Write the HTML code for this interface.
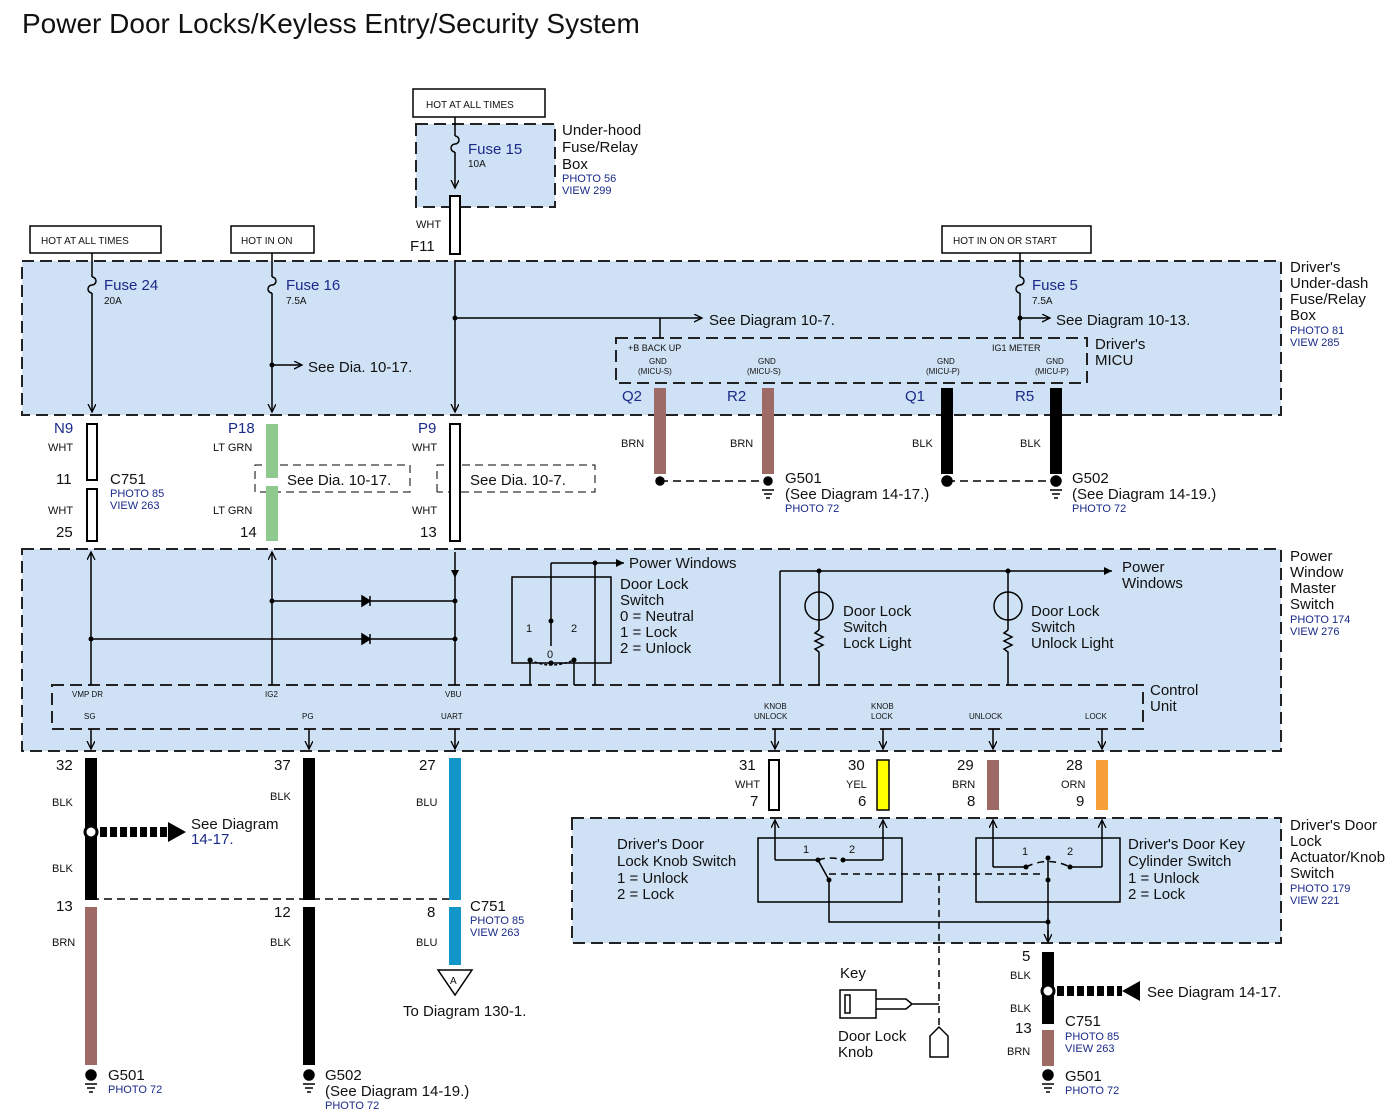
<!DOCTYPE html>
<html><head><meta charset="utf-8"><style>
html,body{margin:0;padding:0;background:#fff}
svg{display:block}
text{font-family:"Liberation Sans",sans-serif;fill:#111}
.s{font-size:11px}.m{font-size:15px}.b,.b text{fill:#1a2a8a}.t{font-size:10px}
</style></head><body>
<svg width="1399" height="1119" viewBox="0 0 1399 1119" xmlns="http://www.w3.org/2000/svg">
<defs>
<marker id="ar" markerWidth="10" markerHeight="10" refX="8" refY="4" orient="auto" markerUnits="userSpaceOnUse"><path d="M0,0 L8,4 L0,8" fill="none" stroke="#000" stroke-width="1.3"/></marker>
<marker id="af" markerWidth="10" markerHeight="10" refX="8" refY="4" orient="auto" markerUnits="userSpaceOnUse"><path d="M0,0 L8,4 L0,8z" fill="#000"/></marker>
</defs>
<text x="22" y="33" style="font-size:28px">Power Door Locks/Keyless Entry/Security System</text>

<g fill="#cfe1f4" stroke="#222" stroke-width="2" stroke-dasharray="12,6">
<rect x="416" y="124" width="139" height="83"/>
<rect x="22" y="261" width="1259" height="154"/>
<rect x="22" y="549" width="1259" height="202"/>
<rect x="572" y="818" width="709" height="125"/>
<rect x="616" y="338" width="471" height="45"/>
<rect x="52" y="685" width="1091" height="44"/>
</g>
<g fill="#fff" stroke="#000" stroke-width="1.5">
<rect x="413" y="89" width="132" height="28"/><rect x="30" y="226" width="131" height="27"/>
<rect x="231" y="226" width="83" height="27"/><rect x="942" y="226" width="149" height="27"/>
</g>
<g class="t"><text x="426" y="108">HOT AT ALL TIMES</text><text x="41" y="244">HOT AT ALL TIMES</text>
<text x="241" y="244">HOT IN ON</text><text x="953" y="244">HOT IN ON OR START</text></g>

<g stroke="#000" stroke-width="1.5" fill="none">
<line x1="455" y1="117" x2="455" y2="136"/><path d="M455,136 a4,4 0 0 1 0,8 a4,4 0 0 0 0,8"/><line x1="455" y1="152" x2="455" y2="188" marker-end="url(#ar)"/>
<line x1="92" y1="253" x2="92" y2="277"/><path d="M92,277 a4,4 0 0 1 0,8 a4,4 0 0 0 0,8"/><line x1="92" y1="293" x2="92" y2="412" marker-end="url(#ar)"/>
<line x1="272" y1="253" x2="272" y2="277"/><path d="M272,277 a4,4 0 0 1 0,8 a4,4 0 0 0 0,8"/><line x1="272" y1="293" x2="272" y2="412" marker-end="url(#ar)"/>
<line x1="272" y1="365" x2="302" y2="365" marker-end="url(#ar)"/>
<line x1="455" y1="262" x2="455" y2="412" marker-end="url(#ar)"/>
<line x1="455" y1="318" x2="702" y2="318" marker-end="url(#ar)"/>
<line x1="660" y1="318" x2="660" y2="338"/>
<line x1="1020" y1="253" x2="1020" y2="277"/><path d="M1020,277 a4,4 0 0 1 0,8 a4,4 0 0 0 0,8"/><line x1="1020" y1="293" x2="1020" y2="338"/>
<line x1="1020" y1="318" x2="1050" y2="318" marker-end="url(#ar)"/>
<line x1="91" y1="685" x2="91" y2="552" marker-end="url(#ar)"/>
<line x1="272" y1="685" x2="272" y2="552" marker-end="url(#ar)"/>
<line x1="455" y1="552" x2="455" y2="578" marker-end="url(#af)"/>
<line x1="455" y1="578" x2="455" y2="685"/>
<line x1="272" y1="601" x2="455" y2="601"/><line x1="91" y1="639" x2="455" y2="639"/>
<path d="M362,596 L370,601 L362,606z M370,596 L370,606" fill="#000"/>
<path d="M362,634 L370,639 L362,644z M370,634 L370,644" fill="#000"/>
<rect x="512" y="577" width="99" height="86"/>
<line x1="595" y1="563" x2="595" y2="685"/><line x1="551" y1="563" x2="624" y2="563" marker-end="url(#af)"/>
<line x1="551" y1="563" x2="551" y2="646"/>
<path d="M530,660 L530,685 M574,660 L574,685"/>
<path d="M530,660 Q551,670 574,660" stroke-dasharray="3,2"/>
<line x1="780" y1="571" x2="1112" y2="571" marker-end="url(#af)"/>
<line x1="780" y1="571" x2="780" y2="685"/>
<line x1="819" y1="571" x2="819" y2="630"/><circle cx="819" cy="606" r="14"/>
<path d="M819,630 l-4,3 l8,4 l-8,4 l8,4 l-8,4 l4,3 L819,685"/>
<line x1="1008" y1="571" x2="1008" y2="630"/><circle cx="1008" cy="606" r="14"/>
<path d="M1008,630 l-4,3 l8,4 l-8,4 l8,4 l-8,4 l4,3 L1008,685"/>
<line x1="91" y1="729" x2="91" y2="749" marker-end="url(#ar)"/>
<line x1="309" y1="729" x2="309" y2="749" marker-end="url(#ar)"/>
<line x1="455" y1="729" x2="455" y2="749" marker-end="url(#ar)"/>
<line x1="775" y1="729" x2="775" y2="749" marker-end="url(#ar)"/>
<line x1="883" y1="729" x2="883" y2="749" marker-end="url(#ar)"/>
<line x1="993" y1="729" x2="993" y2="749" marker-end="url(#ar)"/>
<line x1="1102" y1="729" x2="1102" y2="749" marker-end="url(#ar)"/>
<rect x="758" y="838" width="144" height="64"/><rect x="976" y="838" width="144" height="64"/>
<line x1="775" y1="860" x2="775" y2="820" marker-end="url(#ar)"/><line x1="775" y1="860" x2="818" y2="860"/>
<line x1="883" y1="860" x2="883" y2="820" marker-end="url(#ar)"/><line x1="843" y1="860" x2="883" y2="860"/>
<line x1="993" y1="867" x2="993" y2="820" marker-end="url(#ar)"/><line x1="993" y1="867" x2="1026" y2="867"/>
<line x1="1102" y1="867" x2="1102" y2="820" marker-end="url(#ar)"/><line x1="1070" y1="867" x2="1102" y2="867"/>
<path d="M818,860 L829,880 L829,922 L1048,922 M1048,858 L1048,940" />
<line x1="1048" y1="930" x2="1048" y2="942" marker-end="url(#ar)"/>
<path d="M818,860 Q830,856 843,860 M1026,867 Q1048,856 1070,867 M829,874 L1040,874 M939,874 L939,1030" stroke-dasharray="7,5"/>
<rect x="840" y="990" width="36" height="28"/><rect x="845" y="995" width="5" height="18"/>
<path d="M876,999 L906,999 L912,1004 L906,1009 L876,1009 M912,1004 L939,1004" />
<path d="M930,1057 L930,1036 L939,1027 L948,1036 L948,1057z"/>
<path d="M660,481 L768,481 M947,481 L1056,481 M91,899 L455,899" stroke-dasharray="8,5"/>
<path d="M255,492 L255,465 L410,465 L410,492 L255,492 M437,492 L437,465 L595,465 L595,492 L437,492" stroke-dasharray="8,5" stroke-width="1"/>
</g>
<g fill="#000"><circle cx="455" cy="318" r="2.5"/><circle cx="272" cy="365" r="2.5"/><circle cx="1020" cy="318" r="2.5"/>
<circle cx="272" cy="601" r="2.5"/><circle cx="91" cy="639" r="2.5"/><circle cx="455" cy="601" r="2.5"/><circle cx="455" cy="639" r="2.5"/>
<circle cx="595" cy="563" r="2.5"/><circle cx="819" cy="571" r="2.5"/><circle cx="1008" cy="571" r="2.5"/><circle cx="551" cy="621" r="2.5"/>
<circle cx="530" cy="660" r="2.5"/><circle cx="574" cy="660" r="2.5"/><circle cx="551" cy="663" r="2.5"/>
<circle cx="818" cy="860" r="2.5"/><circle cx="843" cy="860" r="2.5"/><circle cx="829" cy="880" r="2.5"/>
<circle cx="1026" cy="867" r="2.5"/><circle cx="1070" cy="867" r="2.5"/><circle cx="1048" cy="858" r="2.5"/><circle cx="1048" cy="880" r="2.5"/><circle cx="1048" cy="922" r="2.5"/></g>

<g stroke="#000" stroke-width="2" fill="#fff">
<rect x="450" y="196" width="10" height="58"/>
<rect x="87" y="424" width="10" height="56"/><rect x="87" y="489" width="10" height="52"/>
<rect x="450" y="424" width="10" height="117"/>
<rect x="769" y="760" width="10" height="50"/>
</g>
<rect x="266" y="424" width="12" height="117" fill="#8fc98f"/>
<rect x="266" y="478" width="12" height="8" fill="#fff"/><rect x="451" y="478" width="8" height="8" fill="#fff"/>
<rect x="654" y="388" width="12" height="86" fill="#9d6a66"/><rect x="762" y="388" width="12" height="86" fill="#9d6a66"/>
<rect x="941" y="388" width="12" height="86" fill="#000"/><rect x="1050" y="388" width="12" height="86" fill="#000"/>
<rect x="85" y="758" width="12" height="142" fill="#000"/><rect x="85" y="907" width="12" height="158" fill="#9d6a66"/>
<rect x="303" y="758" width="12" height="142" fill="#000"/><rect x="303" y="907" width="12" height="158" fill="#000"/>
<rect x="449" y="758" width="12" height="142" fill="#1296c9"/><rect x="449" y="907" width="12" height="58" fill="#1296c9"/>
<rect x="877" y="760" width="12" height="50" fill="#ffff00" stroke="#000" stroke-width="1.5"/>
<rect x="987" y="760" width="12" height="50" fill="#9d6a66"/><rect x="1096" y="760" width="12" height="50" fill="#f7a03a"/>
<rect x="1042" y="952" width="12" height="72" fill="#000"/><rect x="1042" y="1030" width="12" height="36" fill="#9d6a66"/>
<g fill="#000" stroke="#000" stroke-width="1.5">
<circle cx="660" cy="481" r="4"/><circle cx="768" cy="481" r="4"/><circle cx="947" cy="481" r="5"/><circle cx="1056" cy="481" r="5"/>
<circle cx="91" cy="1075" r="5"/><circle cx="309" cy="1075" r="5"/><circle cx="1048" cy="1075" r="5"/>
<path d="M762,490h12M764,494h8M766,498h4M1050,490h12M1052,494h8M1054,498h4M85,1084h12M87,1088h8M89,1092h4M303,1084h12M305,1088h8M307,1092h4M1042,1084h12M1044,1088h8M1046,1092h4" fill="none"/>
<circle cx="91" cy="832" r="6" fill="#fff" stroke-width="3"/><circle cx="1048" cy="991" r="6" fill="#fff" stroke-width="3"/>
</g>
<path d="M100,832 L168,832" stroke="#000" stroke-width="10" stroke-dasharray="7,3"/><path d="M168,822 L186,832 L168,842z" fill="#000"/>
<path d="M1057,991 L1122,991" stroke="#000" stroke-width="10" stroke-dasharray="7,3"/><path d="M1140,981 L1122,991 L1140,1001z" fill="#000"/>
<path d="M438,970 L472,970 L455,995z" fill="#fff" stroke="#000" stroke-width="1.5"/><text x="450" y="984" class="t">A</text>

<g class="m">
<text x="562" y="135">Under-hood</text><text x="562" y="152">Fuse/Relay</text><text x="562" y="169">Box</text>
<text x="468" y="154" class="b">Fuse 15</text>
<text x="104" y="290" class="b">Fuse 24</text><text x="286" y="290" class="b">Fuse 16</text><text x="1032" y="290" class="b">Fuse 5</text>
<text x="308" y="372">See Dia. 10-17.</text><text x="709" y="325">See Diagram 10-7.</text><text x="1056" y="325">See Diagram 10-13.</text>
<text x="1290" y="272">Driver's</text><text x="1290" y="288">Under-dash</text><text x="1290" y="304">Fuse/Relay</text><text x="1290" y="320">Box</text>
<text x="1095" y="349">Driver's</text><text x="1095" y="365">MICU</text>
<text x="622" y="401" class="b">Q2</text><text x="727" y="401" class="b">R2</text><text x="905" y="401" class="b">Q1</text><text x="1015" y="401" class="b">R5</text>
<text x="54" y="433" class="b">N9</text><text x="228" y="433" class="b">P18</text><text x="418" y="433" class="b">P9</text>
<text x="410" y="251">F11</text>
<text x="56" y="484">11</text><text x="56" y="537">25</text><text x="240" y="537">14</text><text x="420" y="537">13</text>
<text x="110" y="484">C751</text><text x="287" y="485">See Dia. 10-17.</text><text x="470" y="485">See Dia. 10-7.</text>
<text x="785" y="483">G501</text><text x="785" y="499">(See Diagram 14-17.)</text>
<text x="1072" y="483">G502</text><text x="1072" y="499">(See Diagram 14-19.)</text>
<text x="629" y="568">Power Windows</text>
<text x="620" y="589">Door Lock</text><text x="620" y="605">Switch</text><text x="620" y="621">0 = Neutral</text><text x="620" y="637">1 = Lock</text><text x="620" y="653">2 = Unlock</text>
<text x="1122" y="572">Power</text><text x="1122" y="588">Windows</text>
<text x="843" y="616">Door Lock</text><text x="843" y="632">Switch</text><text x="843" y="648">Lock Light</text>
<text x="1031" y="616">Door Lock</text><text x="1031" y="632">Switch</text><text x="1031" y="648">Unlock Light</text>
<text x="1150" y="695">Control</text><text x="1150" y="711">Unit</text>
<text x="1290" y="561">Power</text><text x="1290" y="577">Window</text><text x="1290" y="593">Master</text><text x="1290" y="609">Switch</text>
<text x="56" y="770">32</text><text x="274" y="770">37</text><text x="419" y="770">27</text>
<text x="739" y="770">31</text><text x="848" y="770">30</text><text x="957" y="770">29</text><text x="1066" y="770">28</text>
<text x="750" y="806">7</text><text x="858" y="806">6</text><text x="967" y="806">8</text><text x="1076" y="806">9</text>
<text x="191" y="829">See Diagram</text><text x="191" y="844" class="b">14-17.</text>
<text x="56" y="911">13</text><text x="274" y="917">12</text><text x="427" y="917">8</text><text x="470" y="911">C751</text>
<text x="403" y="1016">To Diagram 130-1.</text>
<text x="108" y="1080">G501</text><text x="325" y="1080">G502</text><text x="325" y="1096">(See Diagram 14-19.)</text>
<text x="617" y="849">Driver's Door</text><text x="617" y="866">Lock Knob Switch</text><text x="617" y="883">1 = Unlock</text><text x="617" y="899">2 = Lock</text>
<text x="1128" y="849">Driver's Door Key</text><text x="1128" y="866">Cylinder Switch</text><text x="1128" y="883">1 = Unlock</text><text x="1128" y="899">2 = Lock</text>
<text x="1290" y="830">Driver's Door</text><text x="1290" y="846">Lock</text><text x="1290" y="862">Actuator/Knob</text><text x="1290" y="878">Switch</text>
<text x="1022" y="961">5</text><text x="1147" y="997">See Diagram 14-17.</text>
<text x="1015" y="1033">13</text><text x="1065" y="1026">C751</text><text x="1065" y="1081">G501</text>
<text x="840" y="978">Key</text><text x="838" y="1041">Door Lock</text><text x="838" y="1057">Knob</text>
</g>
<g class="s">
<text x="416" y="228">WHT</text>
<text x="48" y="451">WHT</text><text x="48" y="514">WHT</text><text x="213" y="451">LT GRN</text><text x="213" y="514">LT GRN</text>
<text x="412" y="451">WHT</text><text x="412" y="514">WHT</text>
<text x="621" y="447">BRN</text><text x="730" y="447">BRN</text><text x="912" y="447">BLK</text><text x="1020" y="447">BLK</text>
<text x="52" y="806">BLK</text><text x="270" y="800">BLK</text><text x="416" y="806">BLU</text>
<text x="52" y="872">BLK</text><text x="52" y="946">BRN</text><text x="270" y="946">BLK</text><text x="416" y="946">BLU</text>
<text x="735" y="788">WHT</text><text x="846" y="788">YEL</text><text x="952" y="788">BRN</text><text x="1061" y="788">ORN</text>
<text x="1010" y="979">BLK</text><text x="1010" y="1012">BLK</text><text x="1007" y="1055">BRN</text>
<text x="526" y="632">1</text><text x="571" y="632">2</text><text x="547" y="658">0</text>
<text x="803" y="853">1</text><text x="849" y="853">2</text><text x="1022" y="855">1</text><text x="1067" y="855">2</text>
</g>
<g class="t">
<text x="468" y="167">10A</text><text x="104" y="304">20A</text><text x="286" y="304">7.5A</text><text x="1032" y="304">7.5A</text>
<text x="628" y="351" style="font-size:9px">+B BACK UP</text><text x="992" y="351" style="font-size:9px">IG1 METER</text>
<g style="font-size:8px"><text x="649" y="364">GND</text><text x="638" y="374">(MICU-S)</text><text x="758" y="364">GND</text><text x="747" y="374">(MICU-S)</text>
<text x="937" y="364">GND</text><text x="926" y="374">(MICU-P)</text><text x="1046" y="364">GND</text><text x="1035" y="374">(MICU-P)</text>
<text x="72" y="697">VMP DR</text><text x="265" y="697">IG2</text><text x="445" y="697">VBU</text>
<text x="84" y="719">SG</text><text x="302" y="719">PG</text><text x="441" y="719">UART</text>
<text x="764" y="709">KNOB</text><text x="754" y="719">UNLOCK</text><text x="871" y="709">KNOB</text><text x="871" y="719">LOCK</text>
<text x="969" y="719">UNLOCK</text><text x="1085" y="719">LOCK</text></g>
<g class="b" style="font-size:11px">
<text x="562" y="182">PHOTO 56</text><text x="562" y="194">VIEW 299</text>
<text x="1290" y="334">PHOTO 81</text><text x="1290" y="346">VIEW 285</text>
<text x="110" y="497">PHOTO 85</text><text x="110" y="509">VIEW 263</text>
<text x="785" y="512">PHOTO 72</text><text x="1072" y="512">PHOTO 72</text>
<text x="1290" y="623">PHOTO 174</text><text x="1290" y="635">VIEW 276</text>
<text x="470" y="924">PHOTO 85</text><text x="470" y="936">VIEW 263</text>
<text x="108" y="1093">PHOTO 72</text><text x="325" y="1109">PHOTO 72</text>
<text x="1290" y="892">PHOTO 179</text><text x="1290" y="904">VIEW 221</text>
<text x="1065" y="1040">PHOTO 85</text><text x="1065" y="1052">VIEW 263</text><text x="1065" y="1094">PHOTO 72</text>
</g></g>
</svg>
</body></html>
